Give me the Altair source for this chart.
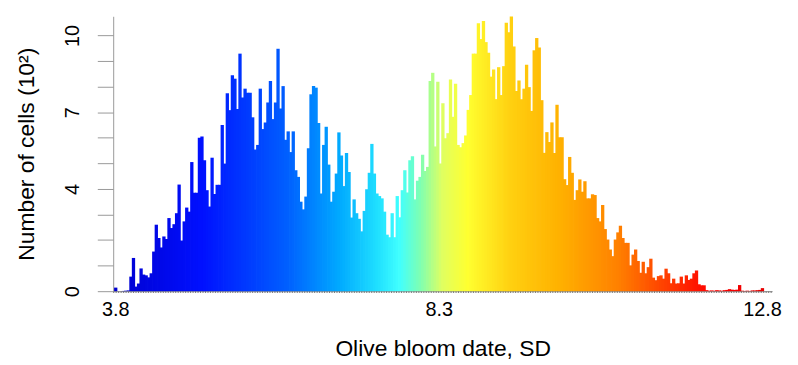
import altair as alt
import pandas as pd

# Histogram counts (hundreds of cells), 256 equal bins from 3.8 to 12.8
counts = [
    0.14, 0.0, 0.0, 0.01, 0.02, 0.03, 0.57, 1.30, 0.18, 0.30,
    0.89, 0.65, 0.62, 0.54, 0.70, 1.55, 2.60, 2.08, 1.71, 2.14,
    2.04, 2.86, 2.47, 2.62, 3.05, 4.17, 1.98, 2.73, 3.27, 3.11,
    5.05, 3.85, 3.85, 6.00, 6.05, 5.12, 3.95, 3.31, 5.22, 3.80,
    4.16, 4.16, 6.50, 4.99, 7.74, 7.08, 8.44, 8.31, 7.12, 9.29,
    7.57, 7.92, 7.76, 7.76, 6.80, 5.54, 5.72, 7.92, 6.34, 6.60,
    7.38, 8.22, 6.73, 7.38, 9.48, 7.14, 8.02, 5.92, 6.25, 5.44,
    6.25, 4.73, 4.47, 3.50, 3.20, 3.70, 5.59, 7.70, 8.02, 7.96,
    6.58, 3.82, 5.72, 6.43, 4.95, 3.50, 3.89, 4.60, 6.21, 5.31,
    4.11, 5.40, 4.66, 2.88, 3.59, 3.05, 2.83, 2.34, 3.14, 3.99,
    4.63, 5.76, 4.60, 3.82, 3.72, 3.63, 3.11, 2.21, 2.11, 3.05,
    2.11, 3.72, 2.89, 3.95, 4.73, 3.86, 5.12, 5.28, 3.59, 4.32,
    4.47, 5.34, 4.70, 4.86, 8.22, 8.54, 5.66, 8.19, 4.99, 7.35,
    5.98, 6.18, 8.28, 6.82, 8.11, 5.72, 5.63, 5.79, 6.09, 7.09,
    7.67, 9.29, 9.29, 10.48, 9.86, 10.57, 9.74, 9.32, 8.39, 8.67,
    7.51, 8.76, 7.67, 8.80, 10.50, 10.13, 10.74, 9.57, 7.83, 8.24,
    7.51, 7.92, 8.86, 7.98, 7.05, 9.42, 9.90, 9.53, 7.47, 5.41,
    6.22, 5.83, 6.60, 5.40, 7.29, 6.02, 6.02, 4.38, 4.15, 5.25,
    4.63, 3.57, 3.95, 4.37, 3.89, 4.30, 3.63, 3.63, 3.79, 3.76,
    2.86, 2.73, 3.37, 2.43, 2.02, 1.63, 1.37, 2.02, 2.30, 2.56,
    2.08, 1.89, 1.89, 1.01, 1.43, 1.63, 1.18, 0.72, 1.15, 0.70,
    0.94, 1.27, 0.53, 0.43, 0.59, 0.62, 0.49, 0.88, 0.70, 0.31,
    0.49, 0.30, 0.31, 0.57, 0.30, 0.62, 0.44, 0.49, 0.70, 0.81,
    0.27, 0.23, 0.23, 0.04, 0.02, 0.03, 0.02, 0.04, 0.03, 0.02,
    0.04, 0.05, 0.08, 0.06, 0.05, 0.06, 0.24, 0.02, 0.01, 0.02,
    0.01, 0.03, 0.03, 0.04, 0.05, 0.12,
]

x_min_label = 3.8
x_max_label = 12.8
x_tick_values = [3.8, 8.3, 12.8]
y_tick_values = list(range(11))
y_label_values = [0, 4, 7, 10]

# colour ramp (bloom date -> colour)
ramp_stops = [3.8, 5.0, 6.2, 6.9, 7.45, 7.75, 8.05, 8.35, 8.7, 9.3, 10.0, 10.8, 11.6, 12.1, 12.8]
ramp_colors = ["#0000d0", "#0010ff", "#0060ff", "#00a8ff", "#20e0ff", "#40ffff", "#80ffb0",
               "#e0ff60", "#ffff30", "#ffd010", "#ffb000", "#ff8000", "#ff3000", "#ff0000", "#e80000"]

n = len(counts)
w = (x_max_label - x_min_label) / (n - 1)
df = pd.DataFrame({
    "center": [x_min_label + k * w for k in range(n)],
    "count": counts,
})
df["x0"] = df["center"] - w / 2
df["x1"] = df["center"] + w * 0.8  # slight overlap to avoid anti-aliasing seams

FONT = "Liberation Sans"
xdom = [3.77, 12.94]
yl_expr = " : ".join(f"datum.value == {v} ? '{v}'" for v in y_label_values) + " : ''"

color_scale = alt.Scale(domain=ramp_stops, range=ramp_colors, interpolate="rgb")

bars = alt.Chart(df).mark_rect().encode(
    x=alt.X("x0:Q", scale=alt.Scale(domain=xdom, nice=False, zero=False),
            axis=alt.Axis(values=x_tick_values, tickCount=3, format=".1f",
                          title="Olive bloom date, SD",
                          ticks=False, grid=False, labelFontSize=20, titleFontSize=23,
                          labelPadding=9, titlePadding=18, domainColor="#888888",
                          labelFlush=False, labelOverlap=False, labelColor="black",
                          titleColor="black", titleFontWeight="normal",
                          labelFont=FONT, titleFont=FONT)),
    x2="x1:Q",
    y=alt.Y("count:Q", scale=alt.Scale(domain=[0, 10.75], nice=False),
            axis=alt.Axis(values=y_tick_values, tickCount=11, labelExpr=yl_expr,
                          title="Number of cells (10²)", grid=False, tickSize=16,
                          tickColor="#999999", domainColor="#999999", labelAngle=270,
                          labelAlign="center", labelBaseline="alphabetic",
                          labelFontSize=20, titleFontSize=23, labelPadding=19,
                          labelOverlap=False, titlePadding=24, labelColor="black",
                          titleColor="black", titleFontWeight="normal",
                          labelFont=FONT, titleFont=FONT)),
    y2=alt.datum(0),
    color=alt.Color("center:Q", scale=color_scale, legend=None),
)

base_df = pd.DataFrame({"a": [xdom[0]], "b": [xdom[1]], "y": [0]})
baseline = alt.Chart(base_df).mark_rule(strokeDash=[1, 1.5], color="#444444", strokeWidth=1, yOffset=1).encode(
    x="a:Q", x2="b:Q", y="y:Q"
)

chart = alt.layer(bars, baseline).properties(
    width=664, height=277,
    autosize=alt.AutoSizeParams(type="none"),
    padding={"left": 106, "top": 7, "right": 18, "bottom": 71},
).configure(font=FONT).configure_view(stroke=None)

chart.save("out.html", embed_options={"renderer": "svg", "actions": False})
